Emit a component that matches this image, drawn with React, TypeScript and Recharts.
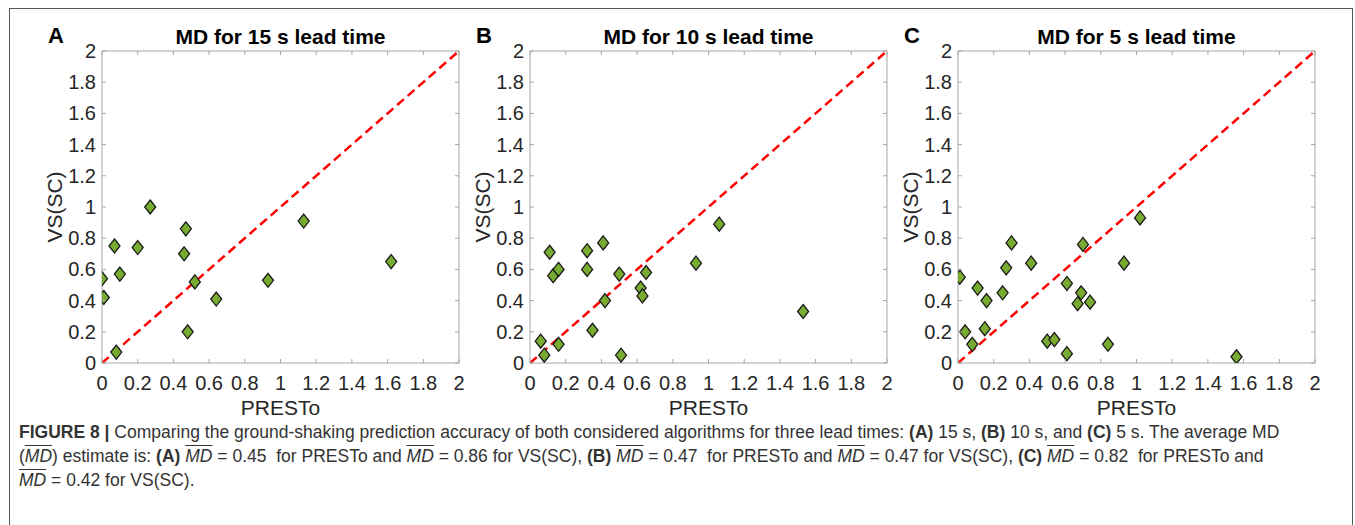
import React from "react";
import { ReferenceLine, Scatter, ScatterChart, XAxis, YAxis } from "recharts";

// axis ticks shared by all three panels (both axes run 0..2)
const ticks = [0, 0.2, 0.4, 0.6, 0.8, 1, 1.2, 1.4, 1.6, 1.8, 2];

// (A) 15 s lead time
const prestoA = [0.0, 0.01, 0.07, 0.1, 0.08, 0.2, 0.27, 0.47, 0.46, 0.52, 0.48, 0.64, 0.93, 1.13, 1.62];
const vsscA = [0.54, 0.42, 0.75, 0.57, 0.07, 0.74, 1.0, 0.86, 0.7, 0.52, 0.2, 0.41, 0.53, 0.91, 0.65];

// (B) 10 s lead time
const prestoB = [0.06, 0.08, 0.11, 0.13, 0.16, 0.16, 0.32, 0.32, 0.35, 0.41, 0.42, 0.5, 0.51, 0.62, 0.63, 0.65, 0.93, 1.06, 1.53];
const vsscB = [0.14, 0.05, 0.71, 0.56, 0.6, 0.12, 0.72, 0.6, 0.21, 0.77, 0.4, 0.57, 0.05, 0.48, 0.43, 0.58, 0.64, 0.89, 0.33];

// (C) 5 s lead time
const prestoC = [0.01, 0.04, 0.08, 0.11, 0.15, 0.16, 0.25, 0.27, 0.3, 0.41, 0.5, 0.54, 0.61, 0.61, 0.67, 0.69, 0.7, 0.74, 0.84, 0.93, 1.02, 1.56];
const vsscC = [0.55, 0.2, 0.12, 0.48, 0.22, 0.4, 0.45, 0.61, 0.77, 0.64, 0.14, 0.15, 0.06, 0.51, 0.38, 0.45, 0.76, 0.39, 0.12, 0.64, 0.93, 0.04];

const letters = ["A", "B", "C"];
const titles = ["MD for 15 s lead time", "MD for 10 s lead time", "MD for 5 s lead time"];
const series = [
  { x: prestoA, y: vsscA },
  { x: prestoB, y: vsscB },
  { x: prestoC, y: vsscC },
];

// layout
const plotLefts = [102, 530, 958];
const plotWidth = 357;
const plotTop = 51;
const plotBottom = 363;
const chartHeight = 400;

const FONT = "'Liberation Sans', Arial, Helvetica, sans-serif";
const FRAME = "#a6a6a6";
const INK = "#262626";

function BottomTick({ x, y, payload }: any) {
  return (
    <g>
      <line x1={x} y1={y} x2={x} y2={y - 4} stroke={FRAME} />
      <text x={x} y={y + 27} textAnchor="middle" fill={INK} fontSize={20} fontFamily={FONT}>
        {String(payload.value)}
      </text>
    </g>
  );
}

function TopTick({ x, y }: any) {
  return <line x1={x} y1={y} x2={x} y2={y + 4} stroke={FRAME} />;
}

function LeftTick({ x, y, payload }: any) {
  return (
    <g>
      <line x1={x} y1={y} x2={x + 4} y2={y} stroke={FRAME} />
      <text x={x - 6} y={y + 7} textAnchor="end" fill={INK} fontSize={20} fontFamily={FONT}>
        {String(payload.value)}
      </text>
    </g>
  );
}

function RightTick({ x, y }: any) {
  return <line x1={x} y1={y} x2={x - 4} y2={y} stroke={FRAME} />;
}

function Diamond({ cx, cy }: any) {
  return (
    <polygon
      points={`${cx},${cy - 7} ${cx + 5.5},${cy} ${cx},${cy + 7} ${cx - 5.5},${cy}`}
      fill="#77ac30"
      stroke="#1a1a1a"
      strokeWidth={1.3}
    />
  );
}

function Panel({ index }: { index: number }) {
  const left = plotLefts[index];
  const s = series[index];
  const data = s.x.map((x, i) => ({ x, y: s.y[i] }));
  return (
    <div style={{ position: "absolute", left: left - 60, top: 0 }}>
      <ScatterChart
        width={plotWidth + 70}
        height={chartHeight}
        margin={{ top: plotTop - 1, left: 10, right: 9, bottom: chartHeight - plotBottom - 30 }}
      >
        <XAxis
          dataKey="x"
          type="number"
          domain={[0, 2]}
          ticks={ticks}
          allowDataOverflow
          height={30}
          stroke={FRAME}
          tickSize={0}
          tickMargin={0}
          tick={<BottomTick />}
        />
        <XAxis
          xAxisId="top"
          orientation="top"
          dataKey="x"
          type="number"
          domain={[0, 2]}
          ticks={ticks}
          allowDataOverflow
          height={1}
          stroke={FRAME}
          tickSize={0}
          tickMargin={0}
          tick={<TopTick />}
        />
        <YAxis
          dataKey="y"
          type="number"
          domain={[0, 2]}
          ticks={ticks}
          allowDataOverflow
          width={50}
          stroke={FRAME}
          tickSize={0}
          tickMargin={0}
          tick={<LeftTick />}
        />
        <YAxis
          yAxisId="right"
          orientation="right"
          dataKey="y"
          type="number"
          domain={[0, 2]}
          ticks={ticks}
          allowDataOverflow
          width={1}
          stroke={FRAME}
          tickSize={0}
          tickMargin={0}
          tick={<RightTick />}
        />
        <Scatter data={data} shape={<Diamond />} isAnimationActive={false} />
        <ReferenceLine
          segment={[
            { x: 0, y: 0 },
            { x: 2, y: 2 },
          ]}
          stroke="#ff0000"
          strokeWidth={2.5}
          strokeDasharray="9 5"
        />
      </ScatterChart>
    </div>
  );
}

const MD = () => (
  <i style={{ textDecoration: "overline" }}>MD</i>
);

export default function App() {
  return (
    <div
      style={{
        position: "absolute",
        left: 0,
        top: 0,
        width: 1355,
        height: 525,
        overflow: "hidden",
        background: "#fff",
        fontFamily: FONT,
      }}
    >
      <div
        style={{
          position: "absolute",
          left: 9,
          top: 8,
          width: 1342,
          height: 530,
          borderTop: "1px solid #555",
          borderLeft: "1px solid #555",
          borderRight: "1px solid #555",
        }}
      />
      {letters.map((_, i) => (
        <Panel key={i} index={i} />
      ))}
      <svg
        width={1355}
        height={525}
        style={{ position: "absolute", left: 0, top: 0, pointerEvents: "none" }}
      >
        {letters.map((letter, i) => {
          const left = plotLefts[i];
          const mid = left + plotWidth / 2;
          const yMid = (plotTop + plotBottom) / 2;
          return (
            <g key={letter} fontFamily={FONT} fill="#000">
              <text x={left - 54} y={43} fontSize={22} fontWeight="bold">
                {letter}
              </text>
              <text x={mid} y={44} fontSize={21} fontWeight="bold" textAnchor="middle">
                {titles[i]}
              </text>
              <text x={mid} y={415} fontSize={21} textAnchor="middle" fill={INK}>
                PRESTo
              </text>
              <text
                x={left - 40}
                y={yMid}
                fontSize={21}
                textAnchor="middle"
                fill={INK}
                transform={`rotate(-90, ${left - 40}, ${yMid})`}
              >
                VS(SC)
              </text>
            </g>
          );
        })}
      </svg>
      <div
        style={{
          position: "absolute",
          left: 19,
          top: 420,
          width: 1325,
          fontSize: 17.5,
          lineHeight: "24px",
          color: "#333",
          whiteSpace: "nowrap",
        }}
      >
        <b>FIGURE 8 |</b> Comparing the ground-shaking prediction accuracy of both considered algorithms for
        three lead times: <b>(A)</b> 15 s, <b>(B)</b> 10 s, and <b>(C)</b> 5 s. The average MD
        <br />(<MD />) estimate is: <b>(A)</b> <MD /> = 0.45&nbsp; for PRESTo and <MD /> = 0.86 for VS(SC),{" "}
        <b>(B)</b> <MD /> = 0.47&nbsp; for PRESTo and <MD /> = 0.47 for VS(SC), <b>(C)</b> <MD /> = 0.82&nbsp; for
        PRESTo and
        <br />
        <MD /> = 0.42 for VS(SC).
      </div>
    </div>
  );
}
